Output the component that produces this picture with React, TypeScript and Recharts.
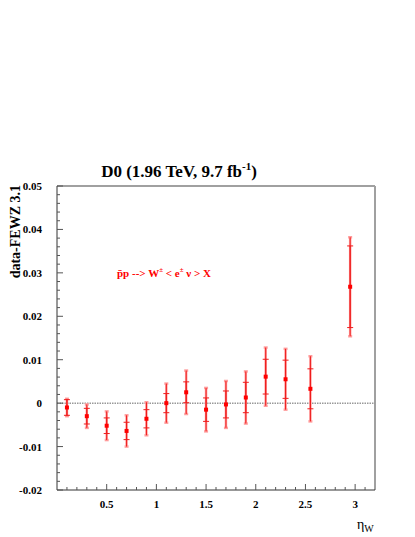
import React from "react";
import { ScatterChart, Scatter, XAxis, YAxis, ErrorBar, ReferenceLine } from "recharts";

// eta_W bins and data - FEWZ 3.1 differences
const etaW = [0.1, 0.3, 0.5, 0.7, 0.9, 1.1, 1.3, 1.5, 1.7, 1.9, 2.1, 2.3, 2.55, 2.95];
const diff = [-0.001, -0.003, -0.0052, -0.0064, -0.0036, 0.0, 0.0025, -0.0015, -0.0003, 0.0013, 0.0061, 0.0055, 0.0033, 0.0268];
const totErr = [0.002, 0.0027, 0.0033, 0.0036, 0.0038, 0.0045, 0.005, 0.005, 0.0054, 0.006, 0.0067, 0.007, 0.0075, 0.0114];
const statErr = [0.0018, 0.0018, 0.0018, 0.002, 0.0021, 0.0022, 0.0024, 0.0027, 0.0031, 0.0035, 0.004, 0.0044, 0.0046, 0.0094];

const xTicks = [0.1, 0.2, 0.3, 0.4, 0.5, 0.6, 0.7, 0.8, 0.9, 1, 1.1, 1.2, 1.3, 1.4, 1.5, 1.6, 1.7, 1.8, 1.9, 2, 2.1, 2.2, 2.3, 2.4, 2.5, 2.6, 2.7, 2.8, 2.9, 3, 3.1];
const xMajor = [0.5, 1, 1.5, 2, 2.5, 3];
const xLabels = ["0.5", "1", "1.5", "2", "2.5", "3"];

const yTicks = [-0.02, -0.018, -0.016, -0.014, -0.012, -0.01, -0.008, -0.006, -0.004, -0.002, 0, 0.002, 0.004, 0.006, 0.008, 0.01, 0.012, 0.014, 0.016, 0.018, 0.02, 0.022, 0.024, 0.026, 0.028, 0.03, 0.032, 0.034, 0.036, 0.038, 0.04, 0.042, 0.044, 0.046, 0.048, 0.05];
const yMajor = [-0.02, -0.01, 0, 0.01, 0.02, 0.03, 0.04, 0.05];
const yLabels = ["-0.02", "-0.01", "0", "0.01", "0.02", "0.03", "0.04", "0.05"];

const points = etaW.map((x, i) => ({ x, y: diff[i], tot: totErr[i], stat: statErr[i] }));

const FONT = "'Liberation Serif', 'Times New Roman', serif";

const findMajor = (list: number[], v: number) => list.findIndex((m) => Math.abs(m - v) < 1e-9);

const renderXTick = (props: any) => {
  const { x, y, payload } = props;
  const idx = findMajor(xMajor, payload.value);
  const len = idx >= 0 ? 6 : 3;
  return (
    <g key={`xt-${payload.value}`}>
      <line x1={x} y1={y} x2={x} y2={y - len} stroke="#555" strokeWidth={1} />
      {idx >= 0 && (
        <text x={x} y={y + 18} textAnchor="middle" fontFamily={FONT} fontWeight="bold" fontSize={11} fill="#000">
          {xLabels[idx]}
        </text>
      )}
    </g>
  );
};

const renderYTick = (props: any) => {
  const { x, y, payload } = props;
  const idx = findMajor(yMajor, payload.value);
  const len = idx >= 0 ? 6 : 3;
  return (
    <g key={`yt-${payload.value}`}>
      <line x1={x} y1={y} x2={x + len} y2={y} stroke="#555" strokeWidth={1} />
      {idx >= 0 && (
        <text x={x - 15} y={y + 4} textAnchor="end" fontFamily={FONT} fontWeight="bold" fontSize={11} fill="#000">
          {yLabels[idx]}
        </text>
      )}
    </g>
  );
};

const Marker = (props: any) => {
  const { cx, cy } = props;
  return <rect x={cx - 2} y={cy - 2} width={4} height={4} fill="#ff0000" />;
};

export default function App() {
  return (
    <div style={{ position: "absolute", left: 0, top: 0, width: 415, height: 537, background: "#fff" }}>
      <ScatterChart width={415} height={537} margin={{ top: 186, right: 40, bottom: 0, left: 0 }}>
        <XAxis
          type="number"
          dataKey="x"
          domain={[0, 3.2]}
          ticks={xTicks}
          interval={0}
          height={47}
          tickSize={0}
          tickMargin={0}
          tick={renderXTick}
          axisLine={{ stroke: "#333" }}
          allowDataOverflow
        />
        <YAxis
          type="number"
          dataKey="y"
          domain={[-0.02, 0.05]}
          ticks={yTicks}
          interval={0}
          width={57}
          tickSize={0}
          tickMargin={0}
          tick={renderYTick}
          axisLine={{ stroke: "#333" }}
          allowDataOverflow
        />
        <ReferenceLine y={0.05} stroke="#a0a0a0" strokeWidth={2} />
        <ReferenceLine x={3.2} stroke="#a0a0a0" strokeWidth={2} />
        <ReferenceLine y={0} stroke="#999" strokeWidth={1.5} strokeDasharray="1.5 1" />
        <Scatter data={points} shape={<Marker />} isAnimationActive={false}>
          <ErrorBar dataKey="tot" direction="y" width={2} stroke="#ff9d9d" strokeWidth={2.5} />
          <ErrorBar dataKey="tot" direction="y" width={0} stroke="#ee1c1c" strokeWidth={1} />
          <ErrorBar dataKey="stat" direction="y" width={3} stroke="#ee1c1c" strokeWidth={1} />
        </Scatter>
      </ScatterChart>
      <svg width={415} height={537} style={{ position: "absolute", left: 0, top: 0, pointerEvents: "none" }}>
        <text x={179} y={177} textAnchor="middle" fontFamily={FONT} fontWeight="bold" fontSize={17} fill="#000">
          D0 (1.96 TeV, 9.7 fb
          <tspan dy={-7} fontSize={11}>-1</tspan>
          <tspan dy={7}>)</tspan>
        </text>
        <text
          x={20}
          y={185}
          transform="rotate(-90 20 185)"
          textAnchor="end"
          fontFamily={FONT}
          fontWeight="bold"
          fontSize={14}
          fill="#000"
        >
          data-FEWZ 3.1
        </text>
        <text x={117} y={277} fontFamily={FONT} fontWeight="bold" fontSize={11} fill="#ff0000">
          {"p\u0304p --> W"}
          <tspan dy={-5} fontSize={7}>±</tspan>
          <tspan dy={5}>{" < e"}</tspan>
          <tspan dy={-5} fontSize={7}>±</tspan>
          <tspan dy={5}>{" \u03bd > X"}</tspan>
        </text>
        <text x={357} y={529} fontFamily={FONT} fontSize={14} fill="#000">
          η
          <tspan dy={3} fontSize={10}>W</tspan>
        </text>
      </svg>
    </div>
  );
}
